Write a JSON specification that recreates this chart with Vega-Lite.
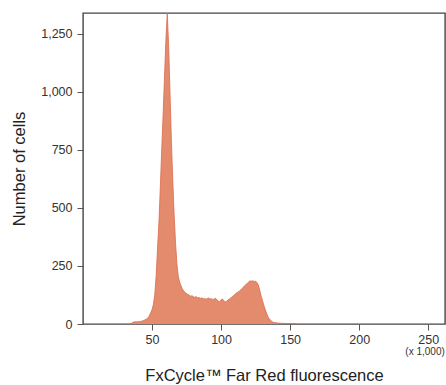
{
  "$schema": "https://vega.github.io/schema/vega-lite/v6.json",
  "width": 362,
  "height": 311,
  "autosize": {"type": "none"},
  "padding": {"left": 83, "top": 13, "right": 1, "bottom": 61},
  "background": "white",
  "config": {
    "view": {"stroke": "#444", "strokeWidth": 1.4},
    "font": "Liberation Sans",
    "axis": {
      "domain": false,
      "grid": false,
      "tickColor": "#555",
      "tickSize": 6,
      "labelFont": "Liberation Sans",
      "labelFontSize": 12.5,
      "labelColor": "#333",
      "titleFont": "Liberation Sans",
      "titleFontSize": 16.5,
      "titleFontWeight": "normal",
      "titleColor": "#222"
    }
  },
  "datasets": {
    "hist": [
      {"x": 34, "count": 0}, {"x": 35, "count": 0}, {"x": 36, "count": 8}, {"x": 37, "count": 9},
      {"x": 38, "count": 10}, {"x": 39, "count": 9}, {"x": 40, "count": 11}, {"x": 41, "count": 10},
      {"x": 42, "count": 12}, {"x": 43, "count": 13}, {"x": 44, "count": 16}, {"x": 45, "count": 18},
      {"x": 46, "count": 22}, {"x": 47, "count": 26}, {"x": 48, "count": 35}, {"x": 49, "count": 48},
      {"x": 50, "count": 62}, {"x": 51, "count": 85}, {"x": 52, "count": 128}, {"x": 53, "count": 210},
      {"x": 54, "count": 330}, {"x": 55, "count": 440}, {"x": 56, "count": 590}, {"x": 57, "count": 750},
      {"x": 58, "count": 900}, {"x": 59, "count": 1060}, {"x": 60, "count": 1220}, {"x": 61, "count": 1340},
      {"x": 62, "count": 1200}, {"x": 63, "count": 1000}, {"x": 64, "count": 790}, {"x": 65, "count": 620},
      {"x": 66, "count": 470}, {"x": 67, "count": 350}, {"x": 68, "count": 260}, {"x": 69, "count": 205},
      {"x": 70, "count": 180}, {"x": 71, "count": 165}, {"x": 72, "count": 150}, {"x": 73, "count": 142},
      {"x": 74, "count": 135}, {"x": 75, "count": 131}, {"x": 76, "count": 127}, {"x": 77, "count": 124},
      {"x": 78, "count": 120}, {"x": 79, "count": 122}, {"x": 80, "count": 117}, {"x": 81, "count": 115},
      {"x": 82, "count": 118}, {"x": 83, "count": 112}, {"x": 84, "count": 114}, {"x": 85, "count": 110},
      {"x": 86, "count": 113}, {"x": 87, "count": 108}, {"x": 88, "count": 111}, {"x": 89, "count": 106},
      {"x": 90, "count": 110}, {"x": 91, "count": 112}, {"x": 92, "count": 107}, {"x": 93, "count": 110},
      {"x": 94, "count": 105}, {"x": 95, "count": 108}, {"x": 96, "count": 111}, {"x": 97, "count": 104},
      {"x": 98, "count": 99}, {"x": 99, "count": 96}, {"x": 100, "count": 104}, {"x": 101, "count": 108},
      {"x": 102, "count": 100}, {"x": 103, "count": 95}, {"x": 104, "count": 98}, {"x": 105, "count": 104},
      {"x": 106, "count": 108}, {"x": 107, "count": 112}, {"x": 108, "count": 118}, {"x": 109, "count": 122},
      {"x": 110, "count": 128}, {"x": 111, "count": 133}, {"x": 112, "count": 137}, {"x": 113, "count": 140},
      {"x": 114, "count": 146}, {"x": 115, "count": 152}, {"x": 116, "count": 158}, {"x": 117, "count": 165},
      {"x": 118, "count": 170}, {"x": 119, "count": 176}, {"x": 120, "count": 181}, {"x": 121, "count": 186},
      {"x": 122, "count": 184}, {"x": 123, "count": 187}, {"x": 124, "count": 182}, {"x": 125, "count": 185},
      {"x": 126, "count": 178}, {"x": 127, "count": 168}, {"x": 128, "count": 145}, {"x": 129, "count": 120},
      {"x": 130, "count": 100}, {"x": 131, "count": 80}, {"x": 132, "count": 62}, {"x": 133, "count": 45},
      {"x": 134, "count": 30}, {"x": 135, "count": 22}, {"x": 136, "count": 15}, {"x": 137, "count": 10},
      {"x": 138, "count": 7}, {"x": 139, "count": 6}, {"x": 140, "count": 5}, {"x": 141, "count": 4},
      {"x": 142, "count": 4}, {"x": 143, "count": 3}, {"x": 144, "count": 3}, {"x": 145, "count": 3},
      {"x": 146, "count": 2}, {"x": 147, "count": 2}, {"x": 148, "count": 2}, {"x": 149, "count": 2},
      {"x": 150, "count": 1}, {"x": 151, "count": 1}, {"x": 152, "count": 1}, {"x": 153, "count": 1},
      {"x": 154, "count": 1}, {"x": 155, "count": 0}
    ],
    "note": [{"x": 262, "y": -122, "label": "(x 1,000)"}]
  },
  "layer": [
    {
      "data": {"name": "hist"},
      "mark": {"type": "area", "interpolate": "linear", "color": "#E48B6D", "opacity": 1, "line": {"color": "#DA6A4C", "strokeWidth": 0.8}},
      "encoding": {
        "x": {
          "field": "x", "type": "quantitative",
          "scale": {"domain": [0, 262.144], "nice": false, "zero": false},
          "axis": {"values": [50, 100, 150, 200, 250], "labelPadding": 3, "title": "FxCycle™ Far Red fluorescence", "titlePadding": 22}
        },
        "y": {
          "field": "count", "type": "quantitative",
          "scale": {"domain": [0, 1340], "nice": false},
          "axis": {"values": [0, 250, 500, 750, 1000, 1250], "format": ",d", "labelPadding": 5, "title": "Number of cells", "titlePadding": 13}
        }
      }
    },
    {
      "data": {"name": "note"},
      "mark": {"type": "text", "fontSize": 10, "color": "#333", "font": "Liberation Sans", "align": "right", "baseline": "middle"},
      "encoding": {
        "x": {"field": "x", "type": "quantitative"},
        "y": {"field": "y", "type": "quantitative"},
        "text": {"field": "label"}
      }
    }
  ]
}
